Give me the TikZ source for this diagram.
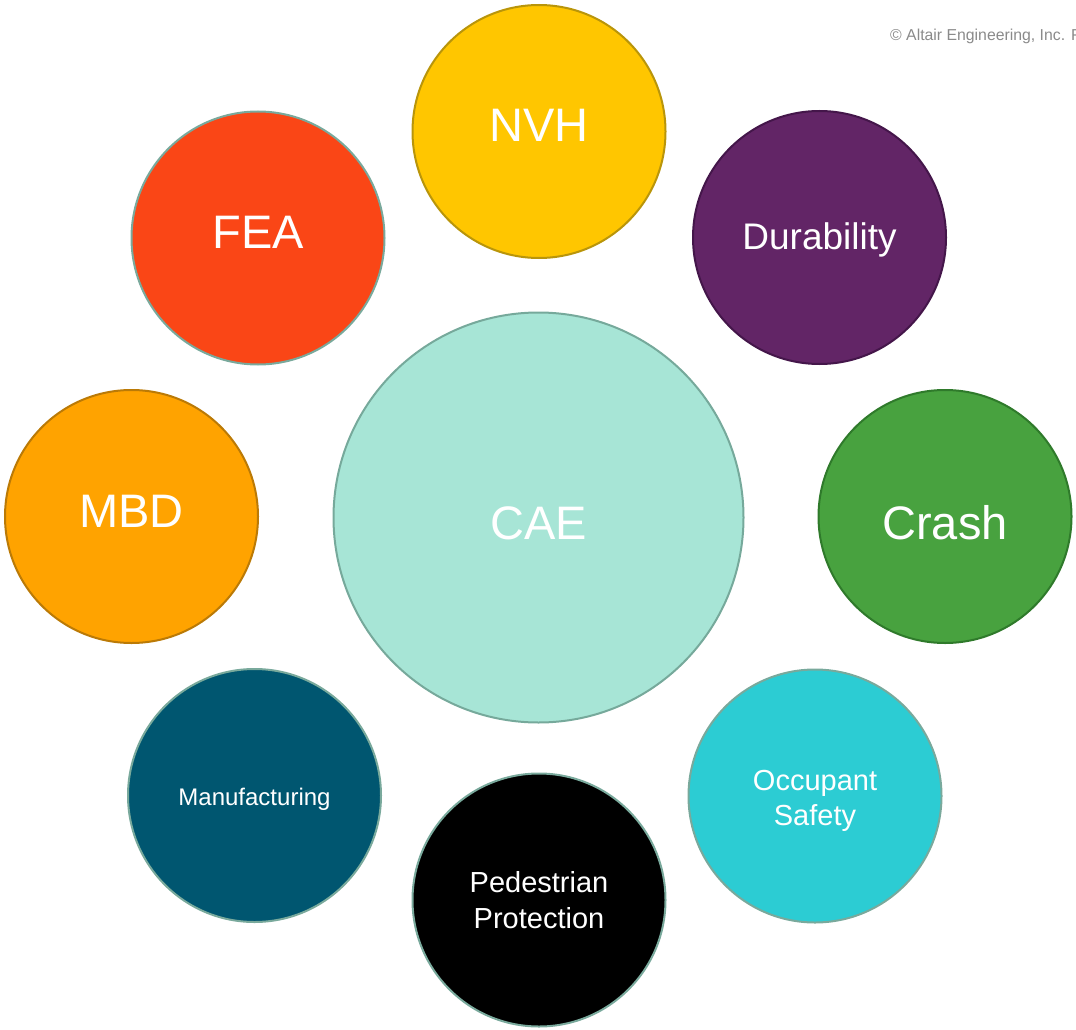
\documentclass[tikz,border=0pt]{standalone}
\usepackage{fontspec}
\setmainfont{Liberation Sans}

\definecolor{caeFill}{HTML}{A7E5D6}
\definecolor{caeLine}{HTML}{76A99B}
\definecolor{nvhFill}{HTML}{FFC600}
\definecolor{nvhLine}{HTML}{B9950A}
\definecolor{durFill}{HTML}{622566}
\definecolor{durLine}{HTML}{44164A}
\definecolor{crashFill}{HTML}{48A23F}
\definecolor{crashLine}{HTML}{2F7A2B}
\definecolor{occFill}{HTML}{2CCCD3}
\definecolor{mfgFill}{HTML}{005670}
\definecolor{mbdFill}{HTML}{FFA300}
\definecolor{mbdLine}{HTML}{BB7A06}
\definecolor{feaFill}{HTML}{FA4616}
\definecolor{tealLine}{HTML}{79A99C}
\definecolor{noteGray}{HTML}{8A8A8A}

\begin{document}
\begin{tikzpicture}[x=1pt, y=-1pt,
    bubble/.style={circle, draw, line width=2pt, inner sep=0pt,
        minimum size=253pt},
    word/.style={text=white, align=center, inner sep=0pt}]

    \useasboundingbox (0,0) rectangle (1076,1030);
    \clip (0,0) rectangle (1076,1030);

    \node[bubble, minimum size=410pt, fill=caeFill, draw=caeLine]
        (CAE) at (538.5,517.5) {};
    \node[word, anchor=base, font=\fontsize{47}{56}\selectfont]
        at ([yshift=-21.5pt]CAE.center) {CAE};

    \node[bubble, fill=nvhFill, draw=nvhLine] (NVH) at (539,131.5) {};
    \node[word, anchor=base, font=\fontsize{47}{56}\selectfont]
        at ([yshift=-10.5pt]NVH.center) {NVH};

    \node[bubble, fill=durFill, draw=durLine] (Dur) at (819.5,237.5) {};
    \node[word, anchor=base, font=\fontsize{37}{44}\selectfont]
        at ([yshift=-11.5pt]Dur.center) {Durability};

    \node[bubble, fill=crashFill, draw=crashLine] (Crash) at (945,516.5) {};
    \node[word, anchor=base, font=\fontsize{47}{56}\selectfont]
        at ([yshift=-22.5pt]Crash.center) {Crash};

    \node[bubble, fill=occFill, draw=tealLine] (Occ) at (815,796) {};
    \node[word, font=\fontsize{29}{35}\selectfont]
        at ([yshift=-5pt]Occ.center) {Occupant\\Safety};

    \node[bubble, fill=black, draw=tealLine] (Ped) at (539,900) {};
    \node[word, font=\fontsize{29}{36}\selectfont]
        at (Ped.center) {Pedestrian\\Protection};

    \node[bubble, fill=mfgFill, draw=tealLine] (Mfg) at (254.5,795.5) {};
    \node[word, anchor=base, font=\fontsize{24}{29}\selectfont]
        at ([yshift=-9.5pt]Mfg.center) {Manufacturing};

    \node[bubble, fill=mbdFill, draw=mbdLine] (MBD) at (131.5,516.5) {};
    \node[word, anchor=base, font=\fontsize{47}{56}\selectfont]
        at ([yshift=-10.5pt]MBD.center) {MBD};

    \node[bubble, fill=feaFill, draw=tealLine] (FEA) at (258,238) {};
    \node[word, anchor=base, font=\fontsize{47}{56}\selectfont]
        at ([yshift=-10pt]FEA.center) {FEA};

    \node[anchor=base west, inner sep=0pt, text=noteGray,
        font=\fontsize{15.8}{19}\selectfont]
        (Note) at (890,41) {© Altair Engineering, Inc. F};

\end{tikzpicture}
\end{document}
